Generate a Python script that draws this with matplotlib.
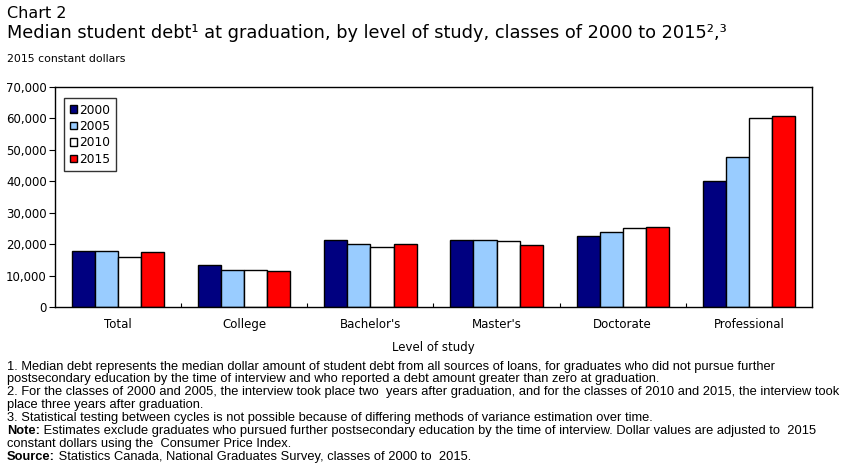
import matplotlib.pyplot as plt
import numpy as np

levels = ["Total", "College", "Bachelor's", "Master's", "Doctorate", "Professional"]
years = ["2000", "2005", "2010", "2015"]
debt_2000 = [17700, 13300, 21200, 21200, 22500, 40000]
debt_2005 = [17700, 11700, 19900, 21200, 23800, 47600]
debt_2010 = [16000, 11700, 19000, 20900, 25000, 60000]
debt_2015 = [17400, 11400, 19900, 19600, 25400, 60700]
colors = ["#000080", "#99CCFF", "#FFFFFF", "#FF0000"]

notes = [
    ("", "1. Median debt represents the median dollar amount of student debt from all sources of loans, for graduates who did not pursue further"),
    ("", "postsecondary education by the time of interview and who reported a debt amount greater than zero at graduation."),
    ("", "2. For the classes of 2000 and 2005, the interview took place two  years after graduation, and for the classes of 2010 and 2015, the interview took"),
    ("", "place three years after graduation."),
    ("", "3. Statistical testing between cycles is not possible because of differing methods of variance estimation over time."),
    ("Note:", " Estimates exclude graduates who pursued further postsecondary education by the time of interview. Dollar values are adjusted to  2015"),
    ("", "constant dollars using the  Consumer Price Index."),
    ("Source:", " Statistics Canada, National Graduates Survey, classes of 2000 to  2015."),
]

fig = plt.figure(figsize=(8.51, 4.73), dpi=100)
ax = fig.add_axes([55/851, 1 - 307/473, 757/851, 220/473])

x = np.arange(len(levels))
w = 0.183
series = [debt_2000, debt_2005, debt_2010, debt_2015]
for i, vals in enumerate(series):
    ax.bar(x + (i - 1.5) * w, vals, w, color=colors[i], edgecolor="black",
           linewidth=1.0, label=years[i])

ax.set_xlim(-0.5, len(levels) - 0.5)
ax.set_ylim(0, 70000)
ax.set_yticks(np.arange(0, 70001, 10000))
ax.set_yticklabels([f"{v:,}" for v in range(0, 70001, 10000)], fontsize=8.5)
ax.tick_params(axis="y", direction="out", length=4, width=0.8, pad=2)
ax.set_xticks(x)
ax.set_xticklabels(levels, fontsize=8.5)
ax.tick_params(axis="x", length=0, pad=8)
ax.set_xticks(np.arange(0.5, len(levels) - 0.5), minor=True)
ax.tick_params(axis="x", which="minor", direction="in", length=3, width=0.8)
ax.set_xlabel("Level of study", fontsize=8.5, labelpad=7)
for s in ax.spines.values():
    s.set_linewidth(1.0)

leg = ax.legend(loc="upper left", bbox_to_anchor=(0.012, 0.95), fontsize=8.8,
                frameon=True, fancybox=False, edgecolor="black",
                handlelength=0.6, handleheight=0.6, handletextpad=0.2,
                labelspacing=0.28, borderpad=0.45, borderaxespad=0)
leg.get_frame().set_linewidth(1.0)

fig.text(7/851, 1 - 14/473, "Chart 2", fontsize=11.5, va="center")
fig.text(7/851, 1 - 33/473,
         "Median student debt\u00b9 at graduation, by level of study, classes of 2000 to 2015\u00b2,\u00b3",
         fontsize=12.8, va="center")
fig.text(7/851, 1 - 59/473, "2015 constant dollars", fontsize=7.8, va="center")

fig.canvas.draw()
renderer = fig.canvas.get_renderer()
ys = [367, 379, 392, 405, 418, 431, 444, 457]
for (bold, rest), yy in zip(notes, ys):
    x0 = 7 / 851
    if bold:
        tb = fig.text(x0, 1 - yy/473, bold, fontsize=9.3, va="center",
                      family="Liberation Sans", fontweight="bold")
        bb = tb.get_window_extent(renderer)
        x0 = bb.x1 / fig.bbox.width
    fig.text(x0, 1 - yy/473, rest, fontsize=9.3, va="center", family="Liberation Sans")

fig.savefig("out.png", dpi=100)
